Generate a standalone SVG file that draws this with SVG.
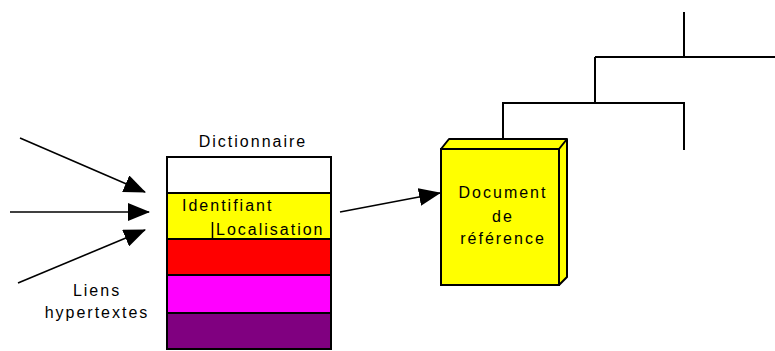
<svg xmlns="http://www.w3.org/2000/svg" width="775" height="351" viewBox="0 0 775 351">
<style>
text{font-family:"Liberation Sans",Arial,sans-serif;font-size:16px;letter-spacing:2px;fill:#000}
.c{text-anchor:middle}
.ln{stroke:#000;stroke-width:2;fill:none}
.ar{stroke:#000;stroke-width:1.6;fill:none;marker-end:url(#ah)}
.bx{stroke:#000;stroke-width:2}
</style>
<defs>
<marker id="ah" markerUnits="userSpaceOnUse" markerWidth="22" markerHeight="18" viewBox="0 0 22 18" refX="21" refY="9" orient="auto">
<path d="M0,0 L22,9 L0,18 Z" fill="#000"/>
</marker>
</defs>
<rect width="775" height="351" fill="#fff"/>
<g id="connectors">
<line class="ar" x1="20" y1="138" x2="145" y2="192"/>
<line class="ar" x1="10" y1="212" x2="149" y2="212"/>
<line class="ar" x1="18" y1="283" x2="145" y2="230"/>
<line class="ar" x1="340" y1="212" x2="440" y2="193"/>
<polyline class="ln" points="503,139 503,103 684,103 684,150"/>
<line class="ln" x1="595" y1="103" x2="595" y2="57"/>
<line class="ln" x1="595" y1="57" x2="775" y2="57"/>
<line class="ln" x1="684" y1="57" x2="684" y2="12"/>
</g>
<g id="liens">
<text class="c" x="97" y="296">Liens</text>
<text class="c" x="97" y="318">hypertextes</text>
</g>
<g id="dictionnaire">
<text class="c" x="253" y="147">Dictionnaire</text>
<rect class="bx" x="167" y="157" width="164" height="36" fill="#fff"/>
<rect class="bx" x="167" y="193" width="164" height="46" fill="#ffff00"/>
<rect class="bx" x="167" y="239" width="164" height="36" fill="#ff0000"/>
<rect class="bx" x="167" y="275" width="164" height="38" fill="#ff00ff"/>
<rect class="bx" x="167" y="313" width="164" height="36" fill="#800080"/>
<text x="182" y="211">Identifiant</text>
<line x1="212.5" y1="222" x2="212.5" y2="238" stroke="#000" stroke-width="1.5"/>
<text x="216" y="235">Localisation</text>
</g>
<g id="document">
<path d="M441,149 L449,139 L567,139 L567,277 L559,285 Z" fill="#ffff00" stroke="#000" stroke-width="2" stroke-linejoin="round"/>
<line x1="559" y1="149" x2="567" y2="139" stroke="#000" stroke-width="2"/>
<rect x="441" y="149" width="118" height="136" fill="#ffff00" stroke="#000" stroke-width="2"/>
<text class="c" x="503" y="198">Document</text>
<text class="c" x="503" y="222">de</text>
<text class="c" x="503" y="244">référence</text>
</g>
</svg>
